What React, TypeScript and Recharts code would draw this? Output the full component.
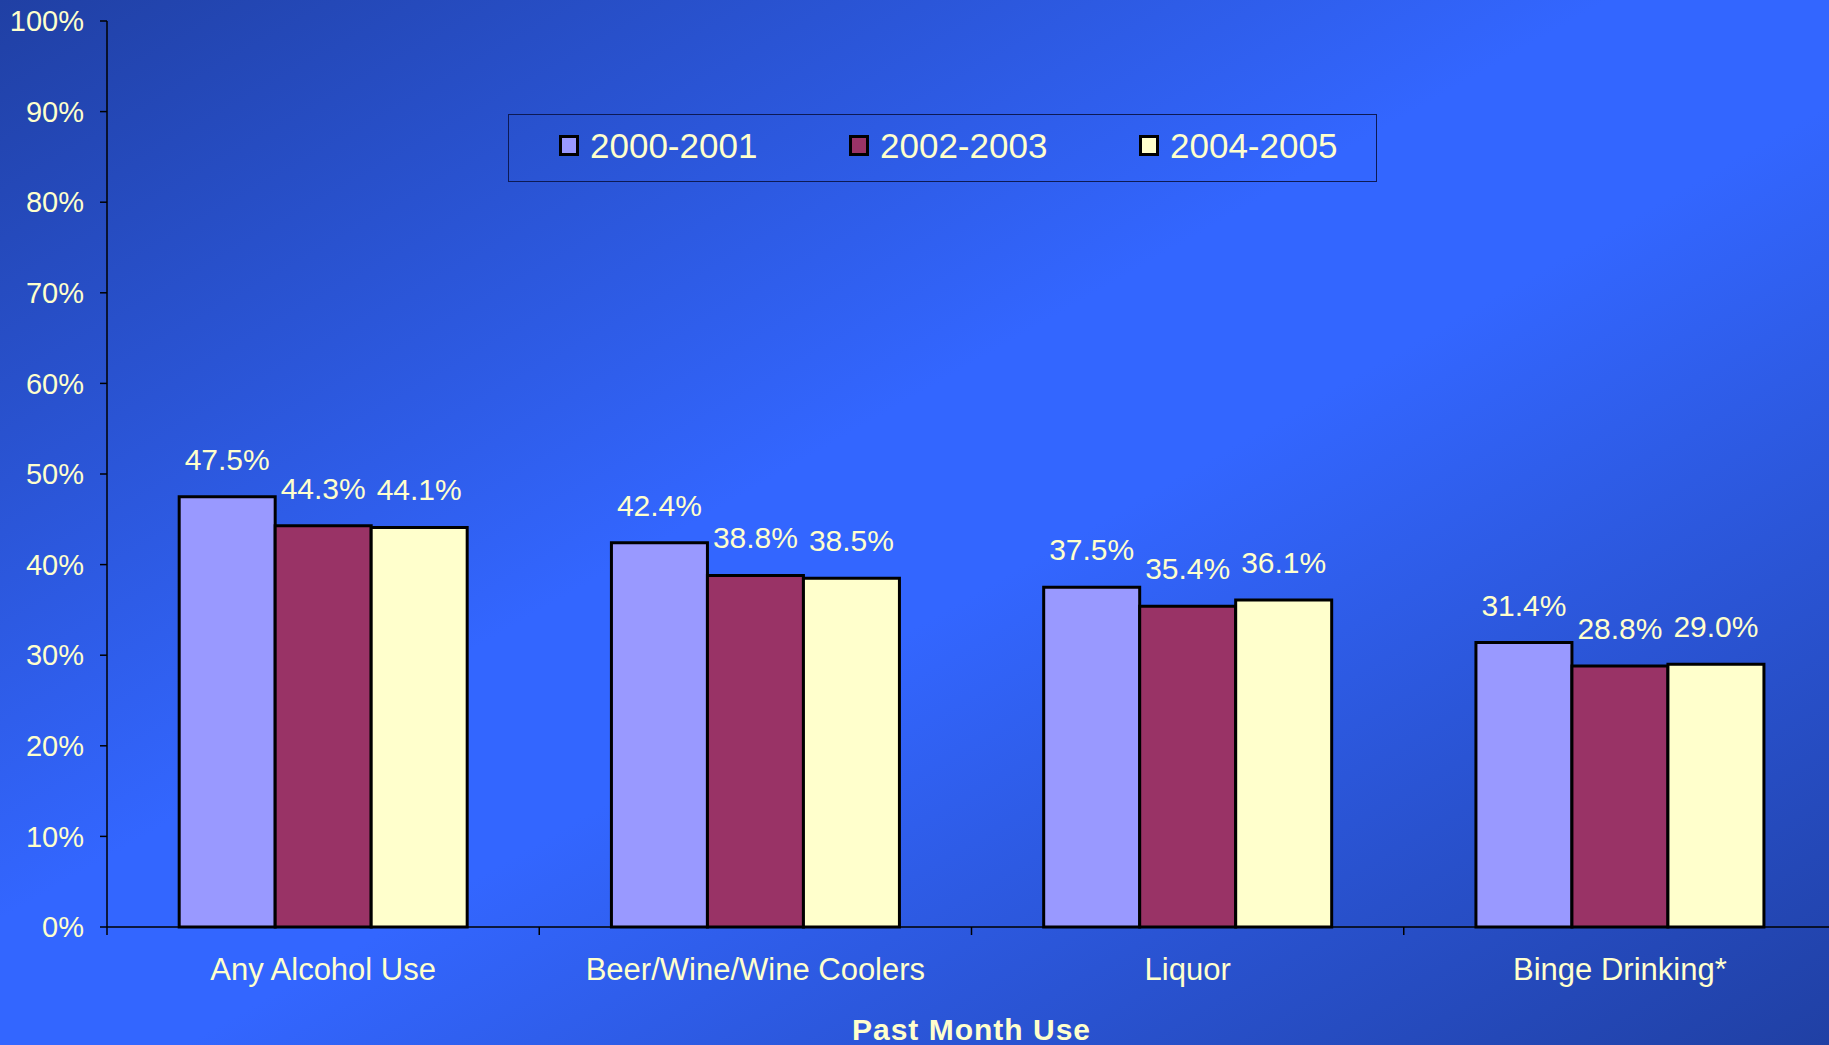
import { Bar, BarChart, LabelList, Label, Legend, XAxis, YAxis } from 'recharts'

const categories = ['Any Alcohol Use', 'Beer/Wine/Wine Coolers', 'Liquor', 'Binge Drinking*']
const seriesNames = ['2000-2001', '2002-2003', '2004-2005']
const values2000 = [47.5, 42.4, 37.5, 31.4]
const values2002 = [44.3, 38.8, 35.4, 28.8]
const values2004 = [44.1, 38.5, 36.1, 29.0]
const yTicks = [0, 10, 20, 30, 40, 50, 60, 70, 80, 90, 100]

const colors = ['#9999FF', '#993366', '#FFFFCC']
const textColor = '#FFFFCC'
const font = '"Liberation Sans", Arial, sans-serif'

const data = categories.map((name, i) => ({
  name,
  a: values2000[i],
  b: values2002[i],
  c: values2004[i],
}))

function CategoryTick(props: any) {
  const { x, y, payload, index, visibleTicksCount } = props
  const half = payload?.offset ?? 0
  const isLast = index === (visibleTicksCount ?? categories.length) - 1
  return (
    <g>
      <line x1={x - half} x2={x - half} y1={y} y2={y + 8} stroke="#000" strokeWidth={1.5} />
      {isLast && <line x1={x + half} x2={x + half} y1={y} y2={y + 8} stroke="#000" strokeWidth={1.5} />}
      <text x={x} y={y + 53} textAnchor="middle" fill={textColor} fontSize={31} fontFamily={font}>
        {payload.value}
      </text>
    </g>
  )
}

function ValueLabel(props: any) {
  const { x, y, width, value } = props
  return (
    <text x={Number(x) + Number(width) / 2} y={Number(y) - 27} textAnchor="middle" fill={textColor} fontSize={30} fontFamily={font}>
      {Number(value).toFixed(1)}%
    </text>
  )
}

function LegendBox() {
  return (
    <div
      style={{
        boxSizing: 'border-box',
        width: 869,
        height: 68,
        border: '1px solid #0d1a55',
        display: 'flex',
        alignItems: 'center',
        paddingLeft: 50,
        paddingBottom: 6,
        overflow: 'hidden',
      }}
    >
      {seriesNames.map((name, i) => (
        <div key={name} style={{ display: 'flex', alignItems: 'center', width: 290, flexShrink: 0 }}>
          <div
            style={{
              boxSizing: 'border-box',
              width: 20,
              height: 21,
              background: colors[i],
              border: '3px solid #000',
              marginRight: 11,
              flexShrink: 0,
            }}
          />
          <span style={{ color: textColor, fontSize: 35, fontFamily: font, lineHeight: 1, whiteSpace: 'nowrap' }}>{name}</span>
        </div>
      ))}
    </div>
  )
}

export default function App() {
  return (
    <div
      style={{
        position: 'fixed',
        left: 0,
        top: 0,
        width: 1829,
        height: 1045,
        overflow: 'hidden',
        fontFamily: font,
        background: 'linear-gradient(to bottom right, #2040a4 0%, #3366ff 44%, #3366ff 55%, #2040a4 100%)',
      }}
    >
      <BarChart
        width={1845}
        height={1045}
        data={data}
        margin={{ top: 21, right: 9, bottom: 0, left: 0 }}
        barCategoryGap="16.7%"
        barGap={0}
      >
        <XAxis
          dataKey="name"
          height={118}
          axisLine={{ stroke: '#000', strokeWidth: 1.5 }}
          tickLine={false}
          tickSize={0}
          tickMargin={0}
          interval={0}
          tick={(p: any) => <CategoryTick {...p} />}
        >
          <Label
            value="Past Month Use"
            position="insideBottom"
            offset={5}
            fill={textColor}
            fontSize={30}
            fontWeight="bold"
            letterSpacing={1}
            fontFamily={font}
          />
        </XAxis>
        <YAxis
          width={107}
          domain={[0, 100]}
          ticks={yTicks}
          interval={0}
          tickFormatter={(v) => `${v}%`}
          axisLine={{ stroke: '#000', strokeWidth: 1.5 }}
          tickLine={{ stroke: '#000', strokeWidth: 1.5 }}
          tickSize={7}
          tickMargin={16}
          tick={{ fill: textColor, fontSize: 29, fontFamily: font }}
        />
        <Legend
          verticalAlign="middle"
          align="center"
          layout="horizontal"
          wrapperStyle={{ position: 'absolute', left: 508, top: 114, width: 869, height: 68 }}
          content={() => <LegendBox />}
        />
        <Bar dataKey="a" name={seriesNames[0]} fill={colors[0]} stroke="#000" strokeWidth={3} isAnimationActive={false}>
          <LabelList dataKey="a" content={(p: any) => <ValueLabel {...p} />} />
        </Bar>
        <Bar dataKey="b" name={seriesNames[1]} fill={colors[1]} stroke="#000" strokeWidth={3} isAnimationActive={false}>
          <LabelList dataKey="b" content={(p: any) => <ValueLabel {...p} />} />
        </Bar>
        <Bar dataKey="c" name={seriesNames[2]} fill={colors[2]} stroke="#000" strokeWidth={3} isAnimationActive={false}>
          <LabelList dataKey="c" content={(p: any) => <ValueLabel {...p} />} />
        </Bar>
      </BarChart>
    </div>
  )
}
